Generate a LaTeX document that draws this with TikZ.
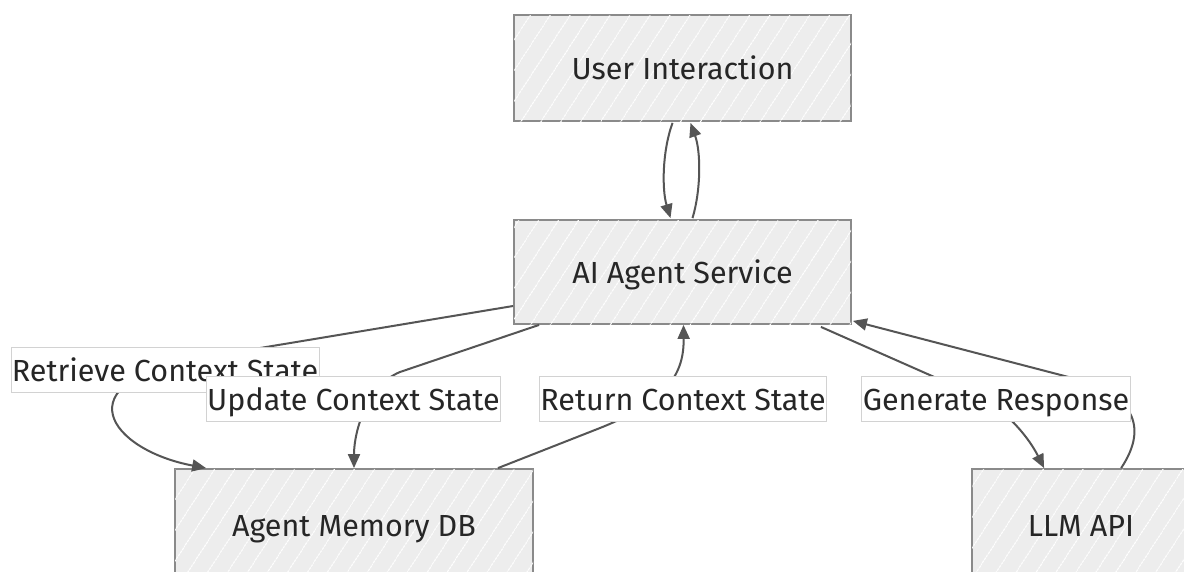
\documentclass[tikz,border=0pt]{standalone}
\usepackage{fontspec}
\setmainfont{Fira Sans}
\usetikzlibrary{arrows.meta,patterns.meta}
\definecolor{edgecol}{HTML}{555555}
\definecolor{boxline}{HTML}{8A8A8A}
\definecolor{boxfill}{HTML}{EDEDED}
\definecolor{labline}{HTML}{D2D2D2}
\definecolor{txt}{HTML}{262626}
\begin{document}
\begin{tikzpicture}[x=1pt,y=-1pt,
  every node/.style={font=\fontsize{30.5}{36}\selectfont, text=txt},
  box/.style={draw=boxline, line width=1.8pt, fill=boxfill, inner sep=0pt,
    text height=22pt, text depth=0pt,
    postaction={pattern={Lines[angle=57,distance=17pt,line width=0.7pt]}, pattern color=white}},
  lab/.style={fill=white, draw=labline, line width=0.7pt, inner xsep=1pt, inner ysep=0pt,
    minimum height=45pt, text height=22pt, text depth=0pt},
  conn/.style={draw=edgecol, line width=2pt},
  arr/.style={conn, -{Triangle[length=14pt,width=12pt]}}
]
\clip (0,0) rectangle (1184,571);
\fill[white] (0,0) rectangle (1184,571);

% boxes
\node[box, minimum width=337pt, minimum height=106pt] (ui) at (682.5,68) {User Interaction};
\node[box, minimum width=337pt, minimum height=104pt] (ai) at (682.5,272) {AI Agent Service};
\node[box, minimum width=358pt, minimum height=112pt] (mem) at (354,525) {Agent Memory DB};
\node[box, minimum width=218pt, minimum height=112pt] (llm) at (1081,525) {LLM API};

% connectors
\draw[arr] ([xshift=-10pt,yshift=-1pt]ui.south) .. controls (662,152) and (662,190) .. ([xshift=-12pt,yshift=1pt]ai.north);
\draw[arr] ([xshift=10pt,yshift=1pt]ai.north) .. controls (701,190) and (701,152) .. ([xshift=8pt,yshift=-1pt]ui.south);

\draw[arr] ([yshift=-34pt]ai.west) -- (200,358) .. controls (60,382) and (110,450) .. ([xshift=32pt]mem.north west);
\draw[arr] ([xshift=26pt]ai.south west) -- (400,372) .. controls (368,385) and (354,430) .. ([xshift=0pt]mem.north);
\draw[arr] ([xshift=-36pt]mem.north east) -- (600,428) .. controls (670,400) and (684,372) .. ([xshift=1pt]ai.south);
\draw[arr] ([xshift=-31pt,yshift=-2pt]ai.south east) -- (975,395) .. controls (1008,410) and (1030,440) .. ([xshift=73pt]llm.north west);
\draw[arr] ([xshift=150pt]llm.north west) .. controls (1150,425) and (1130,395) .. (1080,380) -- ([yshift=4pt,xshift=1pt]ai.south east);

% labels
\node[lab] (l1) at (165,370) {Retrieve Context State};
\node[lab] (l2) at (353.5,399) {Update Context State};
\node[lab] (l3) at (683,399) {Return Context State};
\node[lab] (l4) at (996,399) {Generate Response};
\end{tikzpicture}
\end{document}
